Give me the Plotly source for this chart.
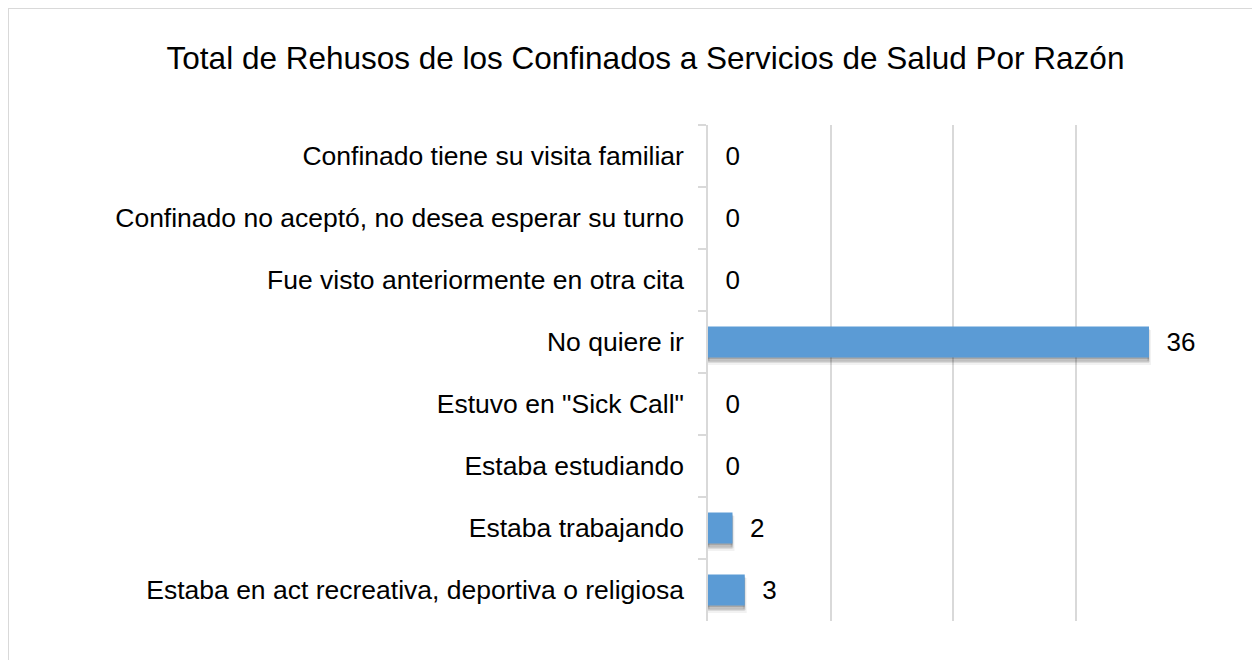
import plotly.graph_objects as go

categories = [
    "Confinado tiene su visita familiar",
    "Confinado no aceptó, no desea esperar su turno",
    "Fue visto anteriormente en otra cita",
    "No quiere ir",
    'Estuvo en "Sick Call"',
    "Estaba estudiando",
    "Estaba trabajando",
    "Estaba en act recreativa, deportiva o religiosa",
]
values = [0, 0, 0, 36, 0, 0, 2, 3]

# the page places the figure 8px from the top-left corner
W, H = 1252, 652
ML, MR, MT, MB = 700, 62, 117, 39
pw, ph = W - ML - MR, H - MT - MB

def px_x(x):
    return (x - ML) / pw

def px_y(y):
    return (H - MB - y) / ph

FONT = "Liberation Sans, Arial, sans-serif"

fig = go.Figure()

# soft drop shadow (layers to fake a blur)
fig.add_trace(go.Bar(
    y=categories, x=values, orientation="h", width=0.5, offset=-0.16,
    marker=dict(color="rgba(0,0,0,0.07)",
                line=dict(color="rgba(0,0,0,0.05)", width=[4 if v > 0 else 0 for v in values])),
    hoverinfo="skip", showlegend=False,
))
fig.add_trace(go.Bar(
    y=categories, x=values, orientation="h", width=0.5, offset=-0.19,
    marker=dict(color="rgba(0,0,0,0.14)",
                line=dict(color="rgba(0,0,0,0.08)", width=[2 if v > 0 else 0 for v in values])),
    hoverinfo="skip", showlegend=False,
))
fig.add_trace(go.Bar(
    y=categories, x=values, orientation="h", width=0.5, offset=-0.22,
    marker=dict(color="rgba(0,0,0,0.18)", line=dict(width=0)),
    hoverinfo="skip", showlegend=False,
))
fig.add_trace(go.Bar(
    y=categories, x=values, orientation="h", width=0.5, offset=-0.25,
    marker=dict(color="#5b9bd5", line=dict(width=0)),
    texttemplate="\u00a0\u00a0%{x}", textposition="outside",
    textfont=dict(size=26, color="#000000", family=FONT),
    cliponaxis=False, showlegend=False,
))

fig.update_layout(
    width=W, height=H,
    margin=dict(l=ML, r=MR, t=MT, b=MB, pad=0),
    paper_bgcolor="white", plot_bgcolor="white",
    barmode="overlay",
    font=dict(family=FONT, color="#000000"),
    title=dict(text="Total de Rehusos de los Confinados a Servicios de Salud Por Razón",
               x=637.5 / W, xref="container", xanchor="center",
               y=1 - 50 / H, yref="container", yanchor="middle",
               font=dict(size=31.5, color="#000000", family=FONT)),
    xaxis=dict(range=[0, 40], dtick=10, showticklabels=False, showgrid=True,
               gridcolor="#d9d9d9", gridwidth=1.5, zeroline=False, showline=False, fixedrange=True),
    yaxis=dict(autorange="reversed", showline=True, linecolor="#d9d9d9", linewidth=1.5,
               ticks="outside", ticklen=8, tickcolor="#d9d9d9", tickwidth=1.5,
               tickson="boundaries", ticklabelstandoff=17, showgrid=False,
               tickfont=dict(size=26.5, color="#000000", family=FONT)),
    shapes=[
        dict(type="line", xref="paper", yref="paper", x0=px_x(0), x1=px_x(W + 5),
             y0=px_y(0), y1=px_y(0), line=dict(color="#d9d9d9", width=2)),
        dict(type="line", xref="paper", yref="paper", x0=px_x(0), x1=px_x(0),
             y0=px_y(0), y1=px_y(H + 5), line=dict(color="#d9d9d9", width=2)),
    ],
)

fig.write_html("out.html")
